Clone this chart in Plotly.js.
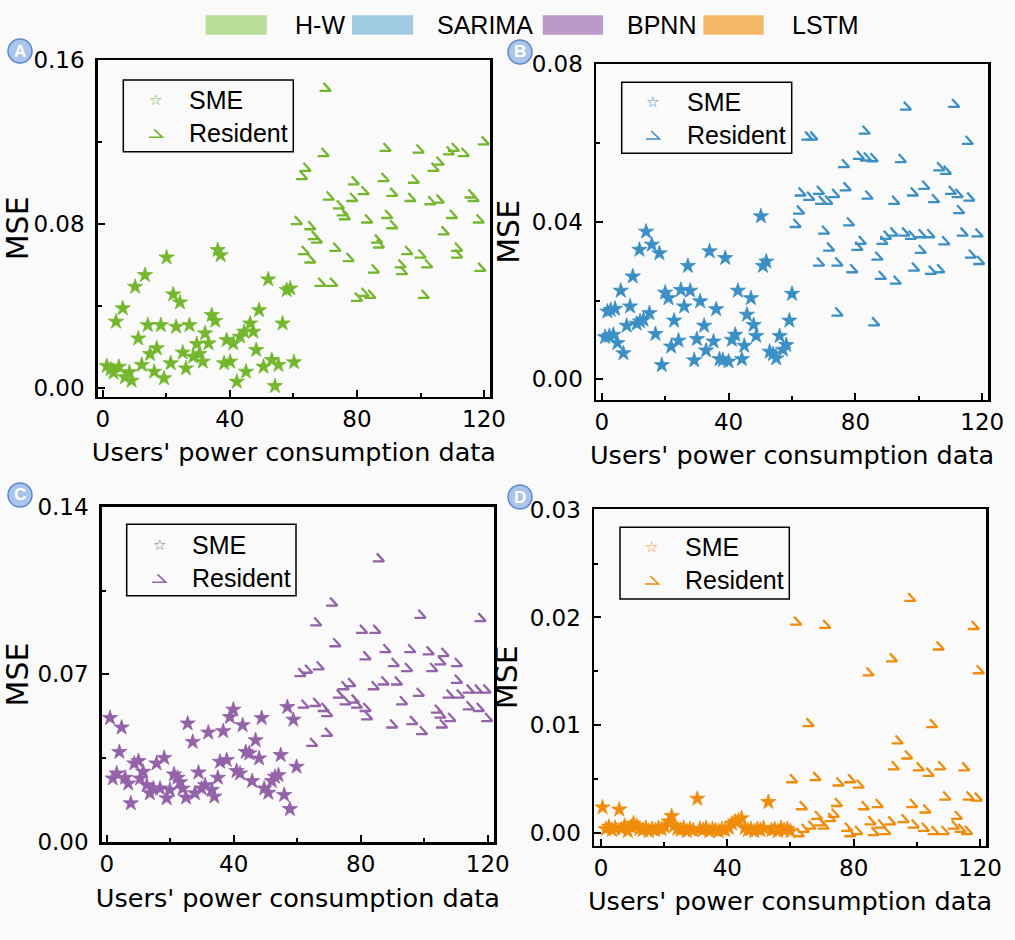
<!DOCTYPE html>
<html><head><meta charset="utf-8">
<script src="https://cdn.plot.ly/plotly-3.0.1.min.js"></script>
<style>
html,body{margin:0;padding:0;background:#f9faf9;}
#chart{width:1015px;height:940px;}
</style></head><body><div id="chart"></div>
<script>
const methods = ['H-W','SARIMA','BPNN','LSTM'];
const panelLetters = ['A','B','C','D'];
const seriesNames = ['SME','Resident'];
const markerColors = ['#74b72e','#3b8fc4','#9362a8','#f08c0a'];
const legendColors = ['#b9df9a','#a0cae2','#b99ac9','#f5b866'];
const xTitle = "Users' power consumption data";
const yTitle = 'MSE';

// Panel A (H-W)
const smeX_A = [1.3,2.5,3.4,5.1,4.2,6.3,7.0,8.4,9.1,10.2,11.2,12.3,13.3,14.2,14.9,16.2,17.0,18.3,19.3,20.1,21.4,22.2,23.1,24.3,25.2,26.2,27.3,28.5,29.6,30.4,31.5,32.2,33.3,34.3,35.4,36.2,37.1,38.2,39.0,40.1,41.1,42.2,43.2,44.5,45.1,46.4,47.4,48.3,49.2,50.6,52.1,53.2,54.2,55.3,56.6,57.9,59.0,60.2];
const smeY_A = [0.0109,0.0093,0.0076,0.0105,0.0325,0.039,0.0054,0.0078,0.0037,0.0495,0.0243,0.0114,0.0552,0.0308,0.0167,0.0081,0.0195,0.0308,0.0049,0.0638,0.0122,0.0458,0.030,0.0419,0.0174,0.0097,0.0308,0.0154,0.0216,0.0167,0.013,0.0268,0.0219,0.0357,0.0329,0.0674,0.0649,0.0122,0.0235,0.013,0.0219,0.0032,0.0252,0.0276,0.0081,0.0316,0.0276,0.0187,0.0381,0.0105,0.0531,0.0138,0.0011,0.0114,0.0316,0.0479,0.0487,0.0127];
const resX_A = [70.0,69.4,63.7,62.6,71.0,74.2,75.4,76.1,78.9,82.0,78.4,88.9,88.3,91.0,99.3,97.8,96.7,104.0,105.6,108.8,110.4,113.5,119.8,103.0,105.6,115.6,116.6,61.0,65.2,66.3,67.3,83.1,89.4,91.0,86.2,86.8,107.2,109.8,118.2,63.2,65.2,73.1,77.3,85.2,95.7,93.6,94.1,99.9,102.0,111.4,111.4,118.7,68.4,72.1,79.9,82.0,84.1,100.9];
const resY_A = [0.147,0.1152,0.108,0.104,0.094,0.0897,0.0863,0.0844,0.1014,0.0966,0.0933,0.1177,0.103,0.0958,0.1169,0.1022,0.0933,0.108,0.111,0.116,0.1177,0.1152,0.1209,0.0917,0.0925,0.095,0.0933,0.082,0.0795,0.0747,0.073,0.0828,0.085,0.080,0.073,0.0706,0.077,0.085,0.0828,0.0674,0.0633,0.069,0.064,0.0584,0.0674,0.0609,0.0576,0.0657,0.0609,0.069,0.0657,0.0592,0.0519,0.0519,0.0446,0.047,0.046,0.046];

// Panel B (SARIMA)
const smeX_B = [1.05,2.42,3.68,1.79,2.84,4.21,4.95,6.0,6.84,7.89,8.95,9.79,11.05,12.1,11.9,13.16,14.0,15.05,15.79,16.95,18.2,18.95,20.0,21.05,21.9,22.84,24.2,24.95,26.0,27.16,27.9,29.16,30.0,31.05,32.3,32.9,34.0,35.26,36.1,37.16,38.2,38.95,40.0,41.05,42.1,42.95,44.2,44.95,45.8,47.05,47.9,48.7,50.2,50.84,51.9,52.95,54.0,55.05,56.1,57.16,58.2,59.16,60.0];
const smeY_B = [0.0107,0.011,0.0113,0.0172,0.0176,0.0179,0.0092,0.0225,0.0066,0.0136,0.0185,0.0261,0.0141,0.0147,0.0329,0.0151,0.0375,0.0168,0.0342,0.0115,0.032,0.0036,0.022,0.0206,0.0083,0.0149,0.0098,0.0227,0.0185,0.0288,0.0225,0.0048,0.0102,0.0198,0.0136,0.0073,0.0325,0.0096,0.0178,0.0051,0.0049,0.0308,0.0045,0.01,0.0113,0.0225,0.0051,0.0085,0.0164,0.0206,0.0138,0.011,0.0414,0.0288,0.0299,0.007,0.0064,0.0053,0.011,0.0075,0.0087,0.0149,0.0217];
const resX_B = [64.7,66.3,82.8,95.8,111.0,115.3,76.3,81.0,83.2,85.3,94.2,106.3,108.4,62.6,65.3,68.4,69.0,71.0,73.2,76.8,83.7,92.1,98.0,101.6,104.7,110.0,112.1,115.8,112.6,62.1,61.0,77.9,70.0,71.6,81.6,80.5,88.4,89.5,91.6,95.3,97.4,100.5,103.2,107.9,113.7,118.4,100.5,86.8,116.3,118.9,68.4,74.2,78.9,87.9,92.6,98.4,103.7,106.3,74.2,85.8];
const resY_B = [0.0619,0.0619,0.0634,0.0695,0.0702,0.0608,0.0549,0.057,0.0566,0.0564,0.0562,0.0541,0.0532,0.0477,0.0466,0.0481,0.0456,0.0456,0.0473,0.049,0.0469,0.0456,0.0477,0.0494,0.046,0.0481,0.0473,0.0464,0.0432,0.0431,0.0397,0.0401,0.038,0.0337,0.0354,0.0339,0.0354,0.0367,0.0375,0.0375,0.0367,0.0371,0.0371,0.0353,0.0375,0.0373,0.0331,0.0314,0.0319,0.0303,0.0299,0.0299,0.0282,0.0265,0.0253,0.0286,0.0278,0.0282,0.0172,0.0147];

// Panel C (BPNN)
const smeX_C = [1.05,1.9,3.15,3.99,4.7,5.8,6.8,7.6,8.7,10.0,10.5,11.5,12.6,13.6,14.7,15.7,16.8,18.1,18.9,19.9,21.2,22.3,23.1,23.9,25.0,25.5,27.1,27.8,28.9,29.9,31.0,32.0,33.1,33.9,35.0,35.7,36.7,37.8,38.8,39.9,40.9,42.0,42.8,43.8,44.9,45.8,46.9,48.0,48.8,49.6,50.9,52.0,53.0,54.1,54.8,55.9,56.9,57.7,58.8,59.8];
const smeY_C = [0.0517,0.0264,0.0285,0.0375,0.0477,0.0267,0.0243,0.016,0.0327,0.0337,0.0264,0.0292,0.0236,0.0202,0.0222,0.0327,0.0222,0.035,0.0181,0.0216,0.0281,0.0267,0.0248,0.0222,0.0184,0.0494,0.0417,0.0202,0.0289,0.0222,0.0236,0.0456,0.0216,0.0188,0.0267,0.0334,0.0462,0.0341,0.0521,0.0552,0.0295,0.0285,0.0487,0.0375,0.0369,0.0253,0.0424,0.0348,0.0517,0.0222,0.0204,0.0253,0.0271,0.0278,0.0362,0.0195,0.0563,0.0136,0.051,0.0313];
const resX_C = [85.6,70.9,65.9,71.9,80.3,84.5,98.7,117.6,60.9,63.0,66.7,81.4,87.7,90.3,94.5,95.5,101.3,102.4,106.0,110.2,105.0,74.5,76.6,73.0,75.1,77.7,78.7,84.0,87.1,91.3,110.2,61.9,65.6,68.2,69.3,81.4,81.9,92.9,98.2,107.6,110.8,113.9,116.5,119.2,113.9,117.1,103.9,105.0,108.1,119.7,89.8,96.1,99.2,105.5,69.3,64.6];
const resY_C = [0.1189,0.1004,0.0921,0.0834,0.089,0.089,0.0953,0.0939,0.0709,0.0723,0.0737,0.0779,0.0809,0.0751,0.073,0.0809,0.08,0.073,0.0793,0.0751,0.0758,0.0654,0.0667,0.0619,0.0591,0.0598,0.0577,0.0654,0.0674,0.0674,0.0681,0.0577,0.0584,0.0563,0.0542,0.0563,0.0528,0.0591,0.0626,0.0619,0.0619,0.064,0.064,0.064,0.057,0.0563,0.0556,0.0535,0.0521,0.0521,0.0494,0.0508,0.0466,0.0494,0.0459,0.0417];

// Panel D (LSTM)
const smeX_D = [0.5,1.5,2.5,3.5,4.5,5.8,6.5,7.5,8.5,9.5,10.3,11.3,12.2,13.2,14.2,15.2,16.2,17.2,18.2,19.2,20.2,21.5,22.4,23.2,24.2,25.2,26.2,27.2,28.2,29.2,30.5,31.3,32.3,33.3,34.3,35.3,36.3,37.3,38.3,39.3,40.5,41.5,42.5,43.5,44.5,45.5,46.5,47.5,48.5,49.5,50.5,51.5,53.0,54.0,55.0,56.0,57.0,58.0,59.0,60.0];
const smeY_D = [0.0024,0.0004,0.0006,0.0003,0.0005,0.0022,0.0004,0.0007,0.0002,0.0006,0.0009,0.0007,0.0004,0.0003,0.0005,0.0002,0.0004,0.0003,0.0005,0.0004,0.0006,0.0011,0.0016,0.0007,0.0004,0.0003,0.0005,0.0002,0.0004,0.0003,0.0032,0.0004,0.0003,0.0005,0.0002,0.0004,0.0003,0.0002,0.0004,0.0003,0.0005,0.0009,0.0011,0.0012,0.0014,0.0005,0.0003,0.0004,0.0002,0.0004,0.0003,0.0005,0.0029,0.0003,0.0004,0.0002,0.0005,0.0003,0.0004,0.0002];
const resX_D = [97.8,61.7,70.9,117.9,106.8,92.0,84.6,119.5,65.6,104.7,93.8,96.8,92.6,100.5,103.6,107.3,114.9,60.4,67.8,75.1,78.8,81.5,63.5,74.6,83.1,87.5,98.4,102.6,108.9,116.3,118.9,73.6,72.5,68.3,69.3,66.2,70.4,64.1,62.5,77.8,81.0,78.8,85.2,88.3,86.2,89.9,91.5,95.7,98.9,102.1,105.2,108.4,111.6,112.6,113.7,115.8];
const resY_D = [0.0219,0.0197,0.0194,0.0193,0.0174,0.0163,0.015,0.0152,0.0103,0.0102,0.0087,0.0073,0.0063,0.0062,0.0057,0.0063,0.0062,0.0051,0.0053,0.0048,0.0051,0.0046,0.0026,0.0029,0.0026,0.0028,0.0028,0.0023,0.0035,0.0035,0.0034,0.0019,0.0015,0.0017,0.0011,0.0008,0.0008,0.0005,0.0001,0.0006,0.0003,0.0001,0.0012,0.0009,0.0002,0.0003,0.0012,0.0014,0.0009,0.0006,0.0003,0.0003,0.0008,0.0017,0.0005,0.0003];

const xTickStep = 40, xMinorStep = 20;
const yTickSteps = [0.08, 0.04, 0.07, 0.01];
const yMinorSteps = [0.04, 0.02, 0.035, 0.005];

const smeX = [smeX_A, smeX_B, smeX_C, smeX_D];
const smeY = [smeY_A, smeY_B, smeY_C, smeY_D];
const resX = [resX_A, resX_B, resX_C, resX_D];
const resY = [resY_A, resY_B, resY_C, resY_D];

// ---- layout geometry (pixels) ----
const W = 1015, H = 940;
const PX = v => v / W, PY = v => 1 - v / H;
const frames = [ // left, top, right, bottom in px
  [97.7, 60, 490, 396.7],
  [596, 64, 988, 399.7],
  [101.7, 506.7, 494, 842.3],
  [594, 509, 986, 845.5]
];
const xRanges = [[-1.57, 121.87], [-1.8, 121.8], [-1.57, 121.98], [-2.2, 121.9]];
const yRanges = [[-0.0041, 0.1601], [-0.0052, 0.0801], [-0.0003, 0.1401], [-0.00113, 0.03005]];
const legendBoxes = [ // box l,t,r,b ; marker x ; row1 y ; row2 y ; text x
  {box: [123.3, 80, 293.3, 151.7], mx: 155.7, y1: 100, y2: 133.3, tx: 186.7},
  {box: [621.7, 82.3, 791.7, 153.3], mx: 652.7, y1: 102, y2: 135, tx: 685},
  {box: [126.7, 524.3, 296, 595.7], mx: 159, y1: 545, y2: 578.3, tx: 190},
  {box: [620, 527.3, 789.3, 599], mx: 651.7, y1: 547.3, y2: 580, tx: 683.3}
];
const badges = [[20, 51], [520, 52], [20, 495], [520, 497]];
const topLegend = [
  {r: [205.6, 15.3, 266.8, 34.7], tx: 292.7},
  {r: [352, 15.3, 413.2, 34.7], tx: 434.6},
  {r: [542.7, 15.3, 603, 34.7], tx: 625.3},
  {r: [703.4, 15.3, 763.7, 34.7], tx: 790.4}
];
// "Resident" glyph: open angle (apex top, diagonal to lower right, base back to the left), pixel offsets
const glyph = [[-1.7, 4], [5.6, -4], [-5.6, -4]];
const legendGlyph = [[-1.5, 4], [6.8, -4], [-6.8, -4]];

const axisFont = {family: 'DejaVu Sans, Liberation Sans, sans-serif', size: 23, color: '#000'};
const traces = [];
const layout = {
  width: W, height: H,
  margin: {l: 0, r: 0, t: 0, b: 0},
  paper_bgcolor: '#f9faf9', plot_bgcolor: '#f9faf9',
  showlegend: false,
  shapes: [], annotations: []
};

for (let i = 0; i < 4; i++) {
  const sfx = i === 0 ? '' : String(i + 1);
  const f = frames[i];
  const xr = xRanges[i], yr = yRanges[i];
  const pxPerX = (f[2] - f[0]) / (xr[1] - xr[0]);
  const pxPerY = (f[3] - f[1]) / (yr[1] - yr[0]);
  traces.push({
    type: 'scatter', mode: 'markers', name: seriesNames[0],
    x: smeX[i], y: smeY[i], xaxis: 'x' + sfx, yaxis: 'y' + sfx,
    marker: {symbol: 'star', size: 11.5, color: markerColors[i], line: {width: 0.8, color: markerColors[i]}},
    hoverinfo: 'skip'
  });
  // resident marks: each data point drawn as a small open-angle glyph via the axes' scales
  const gx = [], gy = [];
  resX[i].forEach((xv, k) => {
    const yv = resY[i][k];
    glyph.forEach(p => { gx.push(xv + p[0] / pxPerX); gy.push(yv + p[1] / pxPerY); });
    gx.push(null); gy.push(null);
  });
  traces.push({
    type: 'scatter', mode: 'lines', name: seriesNames[1],
    x: gx, y: gy, xaxis: 'x' + sfx, yaxis: 'y' + sfx,
    line: {color: markerColors[i], width: 2.3}, connectgaps: false,
    hoverinfo: 'skip'
  });
  const common = {
    showline: true, linewidth: 2.5, linecolor: '#000', mirror: true,
    ticks: 'inside', ticklen: 7, tickwidth: 2, tickcolor: '#000',
    showgrid: false, zeroline: false, tickfont: axisFont, tick0: 0
  };
  layout['xaxis' + sfx] = Object.assign({}, common, {
    domain: [PX(f[0]), PX(f[2])], anchor: 'y' + sfx,
    range: xr, dtick: xTickStep,
    minor: {dtick: xMinorStep, ticks: 'inside', ticklen: 4, tickwidth: 2, tickcolor: '#000'},
    title: {text: xTitle, font: {family: 'DejaVu Sans, sans-serif', size: 25.5, color: '#000'}, standoff: 13}
  });
  layout['yaxis' + sfx] = Object.assign({}, common, {
    domain: [PY(f[3]), PY(f[1])], anchor: 'x' + sfx,
    range: yr, dtick: yTickSteps[i], tickformat: '.2f',
    ticklabelstandoff: 6,
    minor: {dtick: yMinorSteps[i], ticks: 'inside', ticklen: 4, tickwidth: 2, tickcolor: '#000'},
    title: {text: yTitle, font: {family: 'DejaVu Sans, sans-serif', size: 30, color: '#000'}, standoff: 3}
  });

  // panel legend
  const L = legendBoxes[i];
  layout.shapes.push({type: 'rect', xref: 'paper', yref: 'paper',
    x0: PX(L.box[0]), x1: PX(L.box[2]), y0: PY(L.box[3]), y1: PY(L.box[1]),
    line: {color: '#000', width: 1.5}, fillcolor: 'rgba(0,0,0,0)'});
  layout.annotations.push({xref: 'paper', yref: 'paper', x: PX(L.mx), y: PY(L.y1), text: '\u2606',
    showarrow: false, xanchor: 'center', yanchor: 'middle',
    font: {family: 'DejaVu Sans', size: 15, color: markerColors[i]}});
  const lp = legendGlyph.map(p => PX(L.mx + p[0]) + ',' + PY(L.y2 - p[1]));
  layout.shapes.push({type: 'path', xref: 'paper', yref: 'paper',
    path: 'M' + lp[0] + 'L' + lp[1] + 'L' + lp[2],
    line: {color: markerColors[i], width: 1.6}});
  layout.annotations.push({xref: 'paper', yref: 'paper', x: PX(L.tx), y: PY(L.y1), text: seriesNames[0],
    showarrow: false, xanchor: 'left', yanchor: 'middle',
    font: {family: 'Liberation Sans, Arial, sans-serif', size: 25, color: '#000'}});
  layout.annotations.push({xref: 'paper', yref: 'paper', x: PX(L.tx), y: PY(L.y2), text: seriesNames[1],
    showarrow: false, xanchor: 'left', yanchor: 'middle',
    font: {family: 'Liberation Sans, Arial, sans-serif', size: 25, color: '#000'}});

  // panel badge
  const b = badges[i], r = 12;
  layout.shapes.push({type: 'circle', xref: 'paper', yref: 'paper',
    x0: PX(b[0] - r), x1: PX(b[0] + r), y0: PY(b[1] + r), y1: PY(b[1] - r),
    fillcolor: '#a9c5ec', line: {color: '#5b88cc', width: 1.5}});
  layout.annotations.push({xref: 'paper', yref: 'paper', x: PX(b[0]), y: PY(b[1]),
    text: '<b>' + panelLetters[i] + '</b>', showarrow: false, xanchor: 'center', yanchor: 'middle',
    font: {family: 'Liberation Sans, Arial, sans-serif', size: 17, color: '#ffffff'}});

  // top legend entry
  const T = topLegend[i];
  layout.shapes.push({type: 'rect', xref: 'paper', yref: 'paper',
    x0: PX(T.r[0]), x1: PX(T.r[2]), y0: PY(T.r[3]), y1: PY(T.r[1]),
    fillcolor: legendColors[i], line: {width: 0}});
  layout.annotations.push({xref: 'paper', yref: 'paper', x: PX(T.tx), y: PY(25),
    text: methods[i], showarrow: false, xanchor: 'left', yanchor: 'middle',
    font: {family: 'Liberation Sans, Arial, sans-serif', size: 25, color: '#000'}});
}

Plotly.newPlot('chart', traces, layout, {staticPlot: true, displayModeBar: false});
</script></body></html>
